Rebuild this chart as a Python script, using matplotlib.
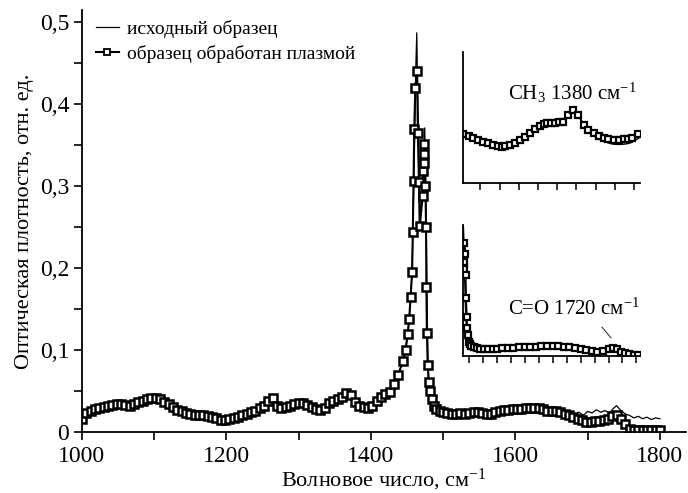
import matplotlib
matplotlib.use('Agg')
import matplotlib.pyplot as plt

plt.rcParams['font.family'] = ['Liberation Serif', 'DejaVu Serif']
plt.rcParams['mathtext.fontset'] = 'custom'
plt.rcParams['mathtext.rm'] = 'Liberation Serif'
plt.rcParams['mathtext.it'] = 'Liberation Serif:italic'

# main spectrum, plasma treated sample (squares)
wn_low = [1000, 1006, 1012, 1018, 1024, 1030, 1036, 1042, 1048, 1054, 1060, 1066, 1072, 1078,
          1084, 1090, 1096, 1102, 1108, 1114, 1120, 1126, 1132, 1138, 1144, 1150, 1156, 1162,
          1168, 1174, 1180, 1186, 1192, 1198, 1204, 1210, 1216, 1222, 1228, 1234, 1240, 1246,
          1252, 1258, 1264, 1270, 1276, 1282, 1288, 1294, 1300, 1306, 1312, 1318, 1324, 1330,
          1336, 1342, 1348, 1354, 1360, 1366, 1372, 1378, 1384, 1390, 1396, 1402, 1408, 1414,
          1420, 1426, 1432, 1438, 1444, 1448, 1451, 1453, 1455, 1457]
a_low = [0.016, 0.023, 0.026, 0.028, 0.029, 0.030, 0.031, 0.033, 0.034, 0.034, 0.033, 0.032, 0.034, 0.036,
         0.038, 0.040, 0.041, 0.041, 0.040, 0.037, 0.034, 0.030, 0.027, 0.025, 0.023, 0.022, 0.021, 0.021,
         0.020, 0.019, 0.018, 0.017, 0.015, 0.015, 0.016, 0.017, 0.018, 0.020, 0.022, 0.024, 0.026, 0.029,
         0.031, 0.038, 0.041, 0.032, 0.029, 0.030, 0.032, 0.034, 0.035, 0.035, 0.033, 0.030, 0.028, 0.027,
         0.029, 0.035, 0.038, 0.040, 0.043, 0.048, 0.045, 0.037, 0.032, 0.030, 0.029, 0.032, 0.038, 0.043,
         0.046, 0.049, 0.058, 0.070, 0.086, 0.100, 0.120, 0.138, 0.165, 0.195]

wn_peak_pl = [1458, 1459, 1460, 1461.5, 1463.9, 1465, 1466.5, 1467.5, 1471.7, 1472.6, 1473.0,
              1473.3, 1473.6, 1475.5, 1476.3, 1476.8, 1477.5, 1478.6, 1480, 1482, 1484, 1487, 1490, 1495, 1500]
a_peak_pl = [0.244, 0.306, 0.370, 0.420, 0.440, 0.365, 0.305, 0.251, 0.288, 0.318, 0.328,
             0.339, 0.351, 0.300, 0.250, 0.177, 0.121, 0.082, 0.061, 0.050, 0.040, 0.032, 0.028, 0.025, 0.024]

wn_high = [1506, 1512, 1518, 1524, 1530, 1536, 1542, 1548, 1554, 1560, 1566, 1572, 1578, 1584,
           1590, 1596, 1602, 1608, 1614, 1620, 1626, 1632, 1638, 1644, 1650, 1656, 1662, 1668,
           1674, 1680, 1686, 1692, 1698, 1704, 1710, 1716, 1722, 1728, 1734, 1740, 1746, 1752,
           1758, 1764, 1770, 1776, 1782, 1788, 1794, 1800]
a_high_pl = [0.023, 0.022, 0.022, 0.023, 0.022, 0.023, 0.024, 0.024, 0.023, 0.022, 0.022, 0.024, 0.026, 0.027,
             0.027, 0.028, 0.028, 0.028, 0.029, 0.029, 0.029, 0.029, 0.028, 0.026, 0.025, 0.025, 0.024, 0.022,
             0.020, 0.018, 0.016, 0.014, 0.012, 0.012, 0.013, 0.013, 0.014, 0.016, 0.019, 0.020, 0.016, 0.009,
             0.004, 0.002, 0.002, 0.002, 0.002, 0.002, 0.002, 0.002]

# main spectrum, initial sample (thin line)
wn_peak_or = [1458, 1460, 1462, 1463.5, 1465, 1467, 1468.5, 1471, 1474.5, 1476, 1477, 1478, 1479,
              1480, 1482, 1484, 1490, 1496, 1502]
a_peak_or = [0.240, 0.330, 0.440, 0.487, 0.400, 0.300, 0.255, 0.300, 0.371, 0.300, 0.220, 0.140, 0.090,
             0.065, 0.050, 0.040, 0.030, 0.026, 0.026]
wn_high_or = [1508, 1514, 1520, 1526, 1532, 1538, 1544, 1550, 1556, 1562, 1568, 1574, 1580, 1586,
              1592, 1598, 1604, 1610, 1616, 1622, 1628, 1634, 1640, 1646, 1652, 1658, 1664, 1670,
              1676, 1682, 1688, 1694, 1700, 1706, 1712, 1718, 1724, 1730, 1736, 1740, 1746, 1752,
              1758, 1764, 1770, 1776, 1782, 1788, 1794, 1800]
a_high_or = [0.024, 0.027, 0.023, 0.025, 0.022, 0.026, 0.024, 0.027, 0.024, 0.025, 0.024, 0.028, 0.030, 0.031,
             0.030, 0.033, 0.031, 0.032, 0.030, 0.031, 0.030, 0.030, 0.029, 0.028, 0.027, 0.027, 0.025, 0.024,
             0.023, 0.021, 0.024, 0.020, 0.025, 0.023, 0.027, 0.024, 0.026, 0.023, 0.029, 0.032, 0.026, 0.022,
             0.020, 0.017, 0.019, 0.016, 0.018, 0.015, 0.017, 0.016]

wn_pl = wn_low + wn_peak_pl + wn_high
a_pl = a_low + a_peak_pl + a_high_pl
wn_or = wn_low + wn_peak_or + wn_high_or
a_or = a_low + a_peak_or + a_high_or

# inset 1: CH3 band (relative units)
ins1_x = [1311, 1314, 1316.4, 1319, 1321.6, 1324, 1326.8, 1329, 1331.2, 1333, 1335.5, 1338, 1340.7,
          1343, 1345.9, 1348.5, 1351.1, 1353, 1354.6, 1357, 1358.9, 1361, 1363.2, 1365.8, 1368.4,
          1371, 1373.7, 1376, 1378.9, 1381.5, 1384.1, 1386.5, 1389.3, 1392, 1394.5, 1397, 1398.9, 1402.3]
ins1_pl = [0.372, 0.355, 0.341, 0.328, 0.315, 0.302, 0.290, 0.282, 0.277, 0.280, 0.290, 0.306, 0.328,
           0.352, 0.379, 0.408, 0.435, 0.452, 0.460, 0.460, 0.460, 0.462, 0.468, 0.519, 0.557,
           0.519, 0.443, 0.405, 0.379, 0.360, 0.346, 0.336, 0.328, 0.330, 0.333, 0.338, 0.346, 0.372]
ins1_or = [0.372, 0.355, 0.341, 0.328, 0.315, 0.302, 0.290, 0.282, 0.277, 0.280, 0.290, 0.306, 0.328,
           0.352, 0.379, 0.408, 0.435, 0.452, 0.460, 0.460, 0.460, 0.462, 0.468, 0.519, 0.557,
           0.519, 0.443, 0.395, 0.360, 0.335, 0.320, 0.305, 0.295, 0.293, 0.295, 0.300, 0.310, 0.340]

# inset 2: C=O band (relative units)
ins2_x = [1466, 1466.8, 1467.6, 1468.5, 1469.5, 1470.4, 1471.5, 1472.5, 1473.5, 1475, 1477, 1480,
          1484, 1490, 1496, 1502, 1510, 1518, 1526, 1535, 1545, 1555, 1565, 1575, 1585, 1595, 1605,
          1615, 1625, 1635, 1645, 1655, 1665, 1675, 1685, 1695, 1705, 1715, 1725, 1733, 1741, 1748,
          1755, 1762, 1770, 1778]
ins2_pl = [0.72, 0.66, 0.86, 0.78, 0.62, 0.44, 0.30, 0.21, 0.16, 0.11, 0.09, 0.075,
           0.068, 0.060, 0.056, 0.054, 0.053, 0.053, 0.054, 0.057, 0.060, 0.063, 0.065, 0.067, 0.069, 0.071, 0.074,
           0.076, 0.075, 0.073, 0.071, 0.068, 0.062, 0.052, 0.042, 0.036, 0.033, 0.040, 0.052, 0.059, 0.050, 0.033,
           0.022, 0.014, 0.010, 0.008]
ins2_or_x = [1465, 1466, 1467, 1468, 1469, 1470, 1471, 1472.5, 1474, 1476, 1479]
ins2_or_head = [1.05, 0.95, 0.80, 0.60, 0.42, 0.30, 0.22, 0.16, 0.12, 0.095, 0.08]

fig = plt.figure(figsize=(6.88, 4.93), dpi=100)
ax = fig.add_axes([0.119, 0.124, 0.878, 0.856])

ax.plot(wn_or, a_or, color='black', lw=0.9, label='исходный образец')
ax.plot(wn_pl, a_pl, color='black', lw=1.5, marker='s', ms=5.5, mfc='white', mec='black',
        mew=1.8, label='образец обработан плазмой')

ax.set_xlim(1000, 1836)
ax.set_ylim(0, 0.515)
ax.set_xticks([1000, 1200, 1400, 1600, 1800])
ax.set_xticks([1100, 1300, 1500, 1700], minor=True)
ax.set_yticks([0, 0.1, 0.2, 0.3, 0.4, 0.5])
ax.set_yticklabels(['0', '0,1', '0,2', '0,3', '0,4', '0,5'])
ax.set_yticks([0.05, 0.15, 0.25, 0.35, 0.45], minor=True)
ax.tick_params(which='both', direction='out', length=6, width=1.2, labelsize=17)
ax.tick_params(axis='x', pad=4)
ax.tick_params(axis='y', pad=3)
for s in ['top', 'right']:
    ax.spines[s].set_visible(False)
for s in ['left', 'bottom']:
    ax.spines[s].set_linewidth(1.3)

ax.set_xlabel('Волновое число, см$^{-1}$', fontsize=16, labelpad=0)
ax.set_ylabel('Оптическая плотность, отн. ед.', fontsize=16, labelpad=4)
leg = ax.legend(loc='upper left', bbox_to_anchor=(0.01, 0.995), frameon=False, fontsize=14,
                handlelength=1.2, handletextpad=0.4, labelspacing=0.35, borderaxespad=0)
leg.get_lines()[1].set_markersize(4)
leg.get_lines()[1].set_markeredgewidth(1.3)

# inset 1
ax1 = fig.add_axes([0.673, 0.629, 0.257, 0.266])
ax1.plot(ins1_x, ins1_or, color='black', lw=1.0)
ax1.plot(ins1_x, ins1_pl, color='black', lw=1.4, marker='s', ms=4, mfc='white', mec='black', mew=1.6)
ax1.set_xlim(1311, 1403)
ax1.set_ylim(0, 1)
ax1.set_xticks([1320, 1330, 1340, 1350, 1360, 1370, 1380, 1390, 1400])
ax1.set_xticklabels([])
ax1.set_yticks([])
ax1.tick_params(direction='out', length=5, width=1.1)
for s in ['top', 'right']:
    ax1.spines[s].set_visible(False)
for s in ['left', 'bottom']:
    ax1.spines[s].set_linewidth(1.3)
ax1.patch.set_alpha(0)
ax1.text(1334.4, 0.687, 'CH$_3$ 1380 см$^{-1}$', fontsize=15, va='center', ha='left')

# inset 2
ax2 = fig.add_axes([0.673, 0.278, 0.257, 0.266])
ax2.plot(ins2_or_x + ins2_x[11:], ins2_or_head + ins2_pl[11:], color='black', lw=1.0)
ax2.plot(ins2_x, ins2_pl, color='black', lw=1.4, marker='s', ms=4, mfc='white', mec='black', mew=1.6)
ax2.set_xlim(1465, 1781)
ax2.set_ylim(0, 1)
ax2.set_xticks([1475, 1500, 1525, 1550, 1575, 1600, 1625, 1650, 1675, 1700, 1725, 1750, 1775])
ax2.set_xticklabels([])
ax2.set_yticks([])
ax2.tick_params(direction='out', length=5, width=1.1)
for s in ['top', 'right']:
    ax2.spines[s].set_visible(False)
for s in ['left', 'bottom']:
    ax2.spines[s].set_linewidth(1.3)
ax2.patch.set_alpha(0)
ax2.text(1545, 0.36, 'C=O 1720 см$^{-1}$', fontsize=15, va='center', ha='left')
ax2.annotate('', xy=(1733, 0.12), xytext=(1710, 0.237),
             arrowprops=dict(arrowstyle='-', lw=0.6, color='black'))

fig.savefig('out.png', dpi=100)
